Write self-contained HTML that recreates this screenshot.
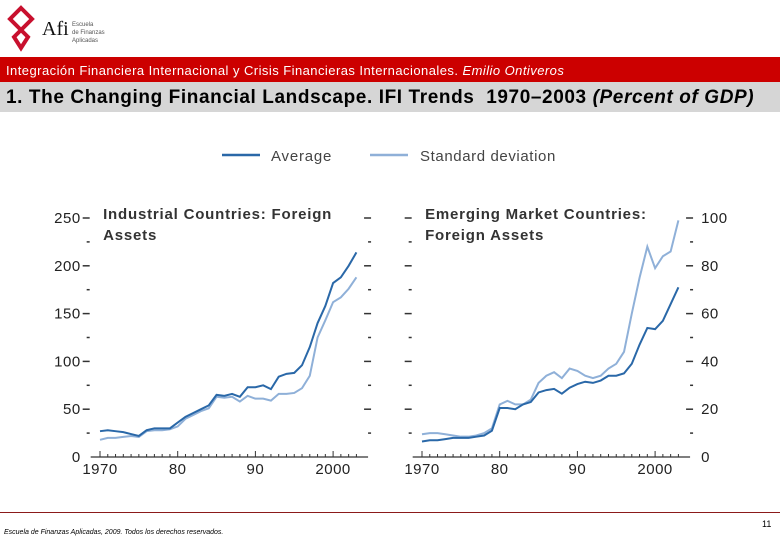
<!DOCTYPE html>
<html><head><meta charset="utf-8"><style>
body{margin:0;width:780px;height:540px;overflow:hidden;background:#fff;font-family:"Liberation Sans",sans-serif;position:relative}
.abs{position:absolute}
</style></head><body>
<div class="abs" style="left:6px;top:4px;width:110px;height:50px">
<svg width="110" height="50"><path d="M15 4 L26 15 L8 33 L15 44 L22 33 L4 15 Z" fill="none" stroke="#c8102e" stroke-width="4"/>
<text x="36" y="31" font-family="Liberation Serif" font-size="20" fill="#111">Afi</text>
<text x="66" y="22" font-size="6" fill="#555">Escuela</text><text x="66" y="30" font-size="6" fill="#555">de Finanzas</text><text x="66" y="38" font-size="6" fill="#555">Aplicadas</text></svg></div>
<div class="abs" style="left:0;top:57px;width:780px;height:25px;background:#cc0000;color:#fff;font-size:13px;letter-spacing:0.45px;line-height:27px;padding-left:6px;box-sizing:border-box">Integración Financiera Internacional y Crisis Financieras Internacionales. <i>Emilio Ontiveros</i></div>
<div class="abs" style="left:0;top:82px;width:780px;height:30px;background:#d6d6d6;color:#000;font-size:19px;letter-spacing:0.6px;font-weight:bold;line-height:32px;padding-left:6px;box-sizing:border-box">1. The Changing Financial Landscape. IFI Trends&nbsp; 1970–2003 <i>(Percent of GDP)</i></div>
<svg id="chart" class="abs" style="left:0;top:0" width="780" height="540"></svg>
<div class="abs" style="left:0;top:512px;width:780px;height:1px;background:#8b1a1a"></div>
<div class="abs" style="left:4px;top:529px;font-size:7px;font-style:italic;color:#000">Escuela de Finanzas Aplicadas, 2009. Todos los derechos reservados.</div>
<div class="abs" style="left:762px;top:519px;font-size:9px;color:#000">11</div>
<script>
const years=[1970,1971,1972,1973,1974,1975,1976,1977,1978,1979,1980,1981,1982,1983,1984,1985,1986,1987,1988,1989,1990,1991,1992,1993,1994,1995,1996,1997,1998,1999,2000,2001,2002,2003];
const indAvg=[27,28,27,26,24,22,28,30,30,30,36,42,46,50,54,65,64,66,63,73,73,75,71,84,87,88,96,115,140,158,182,188,200,214];
const indStd=[18,20,20,21,22,21,27,28,28,29,32,40,44,48,51,63,62,63,58,64,61,61,59,66,66,67,72,85,125,143,162,167,176,188];
const emAvg=[6.5,7,7,7.5,8,8,8,8.5,9,11,20.5,20.5,20,22,23,27,28,28.5,26.5,29,30.5,31.5,31,32,34,34,35,39,47,54,53.5,57,64,71];
const emStd=[9.5,10,10,9.5,9,8.5,8.5,9,10,12,22,23.5,22,22,24,31,34,35.5,33,37,36,34,33,34,37,39,44,60,75,88,79,84,86,99];
const indTicks=[0,50,100,150,200,250];
const emTicks=[0,20,40,60,80,100];
const xTicks=["1970","80","90","2000"];
const svg=document.getElementById('chart');
const NS='http://www.w3.org/2000/svg';
function mk(t,a){const e=document.createElementNS(NS,t);for(const k in a)e.setAttribute(k,a[k]);svg.appendChild(e);return e;}
function panel(x0,yMax,avg,std,ticks,labelSide,title,nm){
  const X=y=>x0+(y-1970)*7.77, Y=v=>457-v/yMax*239;
  const ax=mk('line',{x1:X(1968.8),x2:X(2004.5),y1:457,y2:457,stroke:'#333','stroke-width':1.2});
  
  for(let y=1970;y<=2003;y++){const t=mk('line',{x1:X(y),x2:X(y),y1:457,y2:y%10==0?451:454,stroke:'#333','stroke-width':1});}
  xTicks.forEach((s,i)=>{const t=mk('text',{x:X(1970+i*10),y:474,'font-size':15,'letter-spacing':0.5,'text-anchor':'middle',fill:'#222'});t.textContent=s;});
  const lx=X(1968.8)-1, rx=X(2004.5)+3;
  for(let k=0;k<ticks.length*2-1;k++){const v=k*ticks[1]/2,yy=Y(v);if(v==0)continue;const w=k%2==0?7:3;
    [lx,rx].forEach(x=>{const t=mk('line',{x1:x-w,x2:x,y1:yy,y2:yy,stroke:'#333','stroke-width':1.5});});}
  ticks.forEach(v=>{const t=mk('text',{x:labelSide=='left'?lx-9:rx+8,y:Y(v)+5,'font-size':15,'letter-spacing':0.5,'text-anchor':labelSide=='left'?'end':'start',fill:'#222'});t.textContent=v;});
  title.forEach((s,i)=>{const t=mk('text',{x:X(1970.4),y:219+i*21,'font-size':15,'letter-spacing':0.8,'font-weight':'bold',fill:'#333'});t.textContent=s;});
  const p1=mk('polyline',{points:std.map((v,i)=>X(years[i])+','+Y(v)).join(' '),fill:'none',stroke:'#8fb0d8','stroke-width':2});
  
  const p2=mk('polyline',{points:avg.map((v,i)=>X(years[i])+','+Y(v)).join(' '),fill:'none',stroke:'#2a68a8','stroke-width':2});
  
}
panel(100,250,indAvg,indStd,indTicks,'left',['Industrial Countries: Foreign','Assets'],'industrial');
panel(422,100,emAvg,emStd,emTicks,'right',['Emerging Market Countries:','Foreign Assets'],'emerging');
const l1=mk('line',{x1:222,x2:260,y1:155,y2:155,stroke:'#2a68a8','stroke-width':2.5});
const t1=mk('text',{x:271,y:161,'font-size':15,'letter-spacing':0.8,fill:'#444'});t1.textContent='Average';
const l2=mk('line',{x1:370,x2:408,y1:155,y2:155,stroke:'#8fb0d8','stroke-width':2.5});
const t2=mk('text',{x:420,y:161,'font-size':15,'letter-spacing':0.6,fill:'#444'});t2.textContent='Standard deviation';
</script>
</body></html>
